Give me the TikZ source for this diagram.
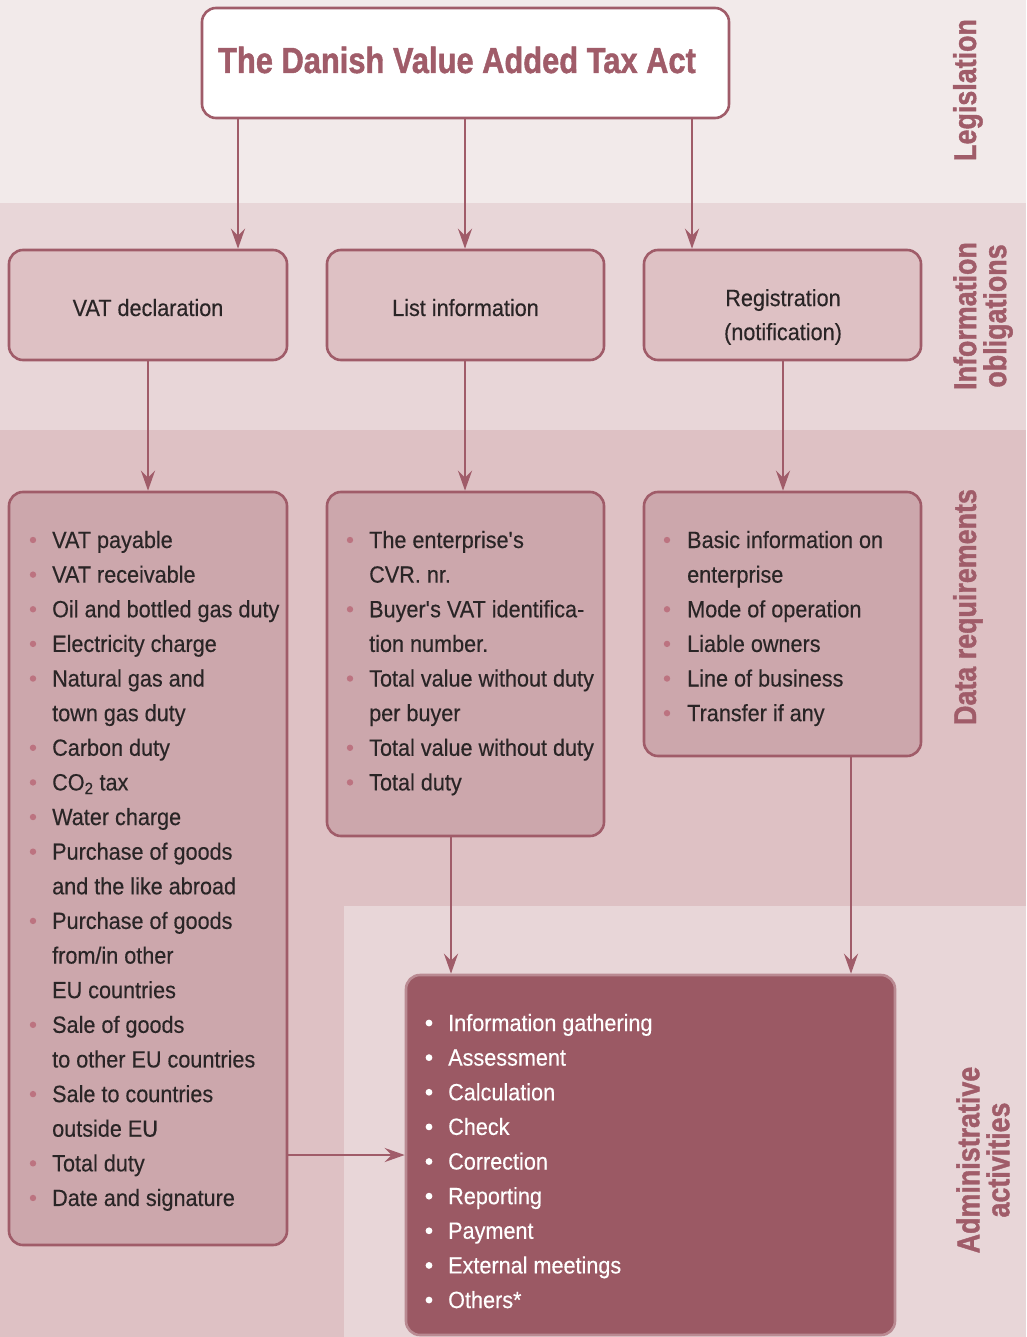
\documentclass[tikz,border=0pt]{standalone}
\usepackage{fontspec}
\setmainfont{Liberation Sans}[FakeStretch=0.92, FakeBold=0.35]
\newfontfamily\condfont{Liberation Sans Bold}[FakeStretch=0.85, FakeBold=1.2]
\usetikzlibrary{arrows.meta}
\definecolor{bandA}{HTML}{F2EAEA}
\definecolor{bandB}{HTML}{E8D6D8}
\definecolor{bandC}{HTML}{DEC1C4}
\definecolor{boxB}{HTML}{DEC1C4}
\definecolor{boxC}{HTML}{CCA7AC}
\definecolor{admfill}{HTML}{9B5964}
\definecolor{admedge}{HTML}{BA8A92}
\definecolor{edge}{HTML}{A05C69}
\definecolor{txt}{HTML}{2A2526}
\definecolor{bulc}{HTML}{BC7380}
\tikzset{
  boxbase/.style={draw=edge, line width=2.6pt, rounded corners=14pt, inner sep=0pt},
  topbox/.style={boxbase, fill=white},
  midbox/.style={boxbase, fill=boxB},
  listbox/.style={boxbase, fill=boxC},
  admbox/.style={boxbase, draw=admedge, fill=admfill},
  arr/.style={draw=edge, line width=2.8pt, -{Stealth[length=20pt, width=14pt, inset=7pt]}},
  itemtxt/.style={inner sep=0pt, text=txt, font=\fontsize{23.5}{28}\selectfont, anchor=base west},
  admtxt/.style={itemtxt, text=white},
  boxtxt/.style={inner sep=0pt, text=txt, font=\fontsize{23.5}{34}\selectfont, align=center},
  sidelabel/.style={inner sep=0pt, text=edge, rotate=90, align=center, font=\condfont\fontsize{31.6}{30}\selectfont},
  bul/.style={fill=bulc},
  admbul/.style={fill=white}
}
\begin{document}
\begin{tikzpicture}[x=1pt, y=-1pt]
\useasboundingbox (0,0) rectangle (1026,1337);
% bands
\fill[bandA] (0,0) rectangle (1026,203);
\fill[bandB] (0,203) rectangle (1026,430);
\fill[bandC] (0,430) rectangle (1026,906);
\fill[bandC] (0,906) rectangle (344,1337);
\fill[bandB] (344,906) rectangle (1026,1337);

% boxes
\node[topbox, minimum width=527pt, minimum height=110pt] (top) at (465.5,63) {};
\node[midbox, minimum width=278pt, minimum height=110pt] (vd) at (148,305) {};
\node[midbox, minimum width=277pt, minimum height=110pt] (li) at (465.5,305) {};
\node[midbox, minimum width=277pt, minimum height=110pt] (rg) at (782.5,305) {};
\node[listbox, minimum width=278pt, minimum height=753pt] (dl) at (148,868.5) {};
\node[listbox, minimum width=277pt, minimum height=344pt] (dm) at (465.5,664) {};
\node[listbox, minimum width=277pt, minimum height=264pt] (dr) at (782.5,624) {};
\node[admbox, minimum width=489pt, minimum height=360pt] (adm) at (650.5,1155) {};

% connectors
\draw[arr] (top.south -| 238,0) -- (vd.north -| 238,0);
\draw[arr] (top.south -| 465,0) -- (li.north -| 465,0);
\draw[arr] (top.south -| 692,0) -- (rg.north -| 692,0);
\draw[arr] (vd.south) -- (dl.north -| vd.south);
\draw[arr] (li.south -| 465,0) -- (dm.north -| 465,0);
\draw[arr] (rg.south -| 783,0) -- (dr.north -| 783,0);
\draw[arr] (dm.south -| 451,0) -- (adm.north -| 451,0);
\draw[arr] (dr.south -| 851,0) -- (adm.north -| 851,0);
\draw[arr] (dl.east |- 0,1155) -- (adm.west |- 0,1155);

% texts
\node[inner sep=0pt, text=edge, anchor=base, font=\condfont\fontsize{36.3}{40}\selectfont] (title) at (457,73) {The Danish Value Added Tax Act};
\node[boxtxt, anchor=base] (vdt) at (148,316) {VAT declaration};
\node[boxtxt, anchor=base] (lit) at (465.5,316) {List information};
\node[boxtxt] (rgt) at (783,317) {Registration\\(notification)};

\node[sidelabel, anchor=base] (l1) at (976,90) {Legislation};
\node[sidelabel] (l2) at (983,316) {Information\\obligations};
\node[sidelabel, anchor=base] (l3) at (976,607) {Data requirements};
\node[sidelabel] (l4) at (983,1160) {Administrative\\activities};

% left list
\foreach [count=\i from 0] \b/\t in {1/VAT payable, 1/VAT receivable, 1/Oil and bottled gas duty, 1/Electricity charge, 1/Natural gas and, 0/town gas duty, 1/Carbon duty, 1/{CO\textsubscript{2} tax}, 1/Water charge, 1/Purchase of goods, 0/and the like abroad, 1/Purchase of goods, 0/{from/in other}, 0/EU countries, 1/Sale of goods, 0/to other EU countries, 1/Sale to countries, 0/outside EU, 1/Total duty, 1/Date and signature} {
  \node[itemtxt] (dl-\i) at (52, 548+34.63*\i) {\t};
  \ifnum\b=1 \fill[bul] (33, 540+34.63*\i) circle (3.2pt); \fi
}
% middle list
\foreach [count=\i from 0] \b/\t in {1/{The enterprise\textquotesingle s}, 0/CVR. nr., 1/{Buyer\textquotesingle s VAT identifica-}, 0/tion number., 1/Total value without duty, 0/per buyer, 1/Total value without duty, 1/Total duty} {
  \node[itemtxt] (dm-\i) at (369, 548+34.63*\i) {\t};
  \ifnum\b=1 \fill[bul] (350, 540+34.63*\i) circle (3.2pt); \fi
}
% right list
\foreach [count=\i from 0] \b/\t in {1/Basic information on, 0/enterprise, 1/Mode of operation, 1/Liable owners, 1/Line of business, 1/Transfer if any} {
  \node[itemtxt] (dr-\i) at (687, 548+34.63*\i) {\t};
  \ifnum\b=1 \fill[bul] (667, 540+34.63*\i) circle (3.2pt); \fi
}
% admin list
\foreach [count=\i from 0] \t in {Information gathering, Assessment, Calculation, Check, Correction, Reporting, Payment, External meetings, Others*} {
  \node[admtxt] (ad-\i) at (448, 1031+34.63*\i) {\t};
  \fill[admbul] (429, 1023+34.63*\i) circle (3.4pt);
}
\end{tikzpicture}
\end{document}
